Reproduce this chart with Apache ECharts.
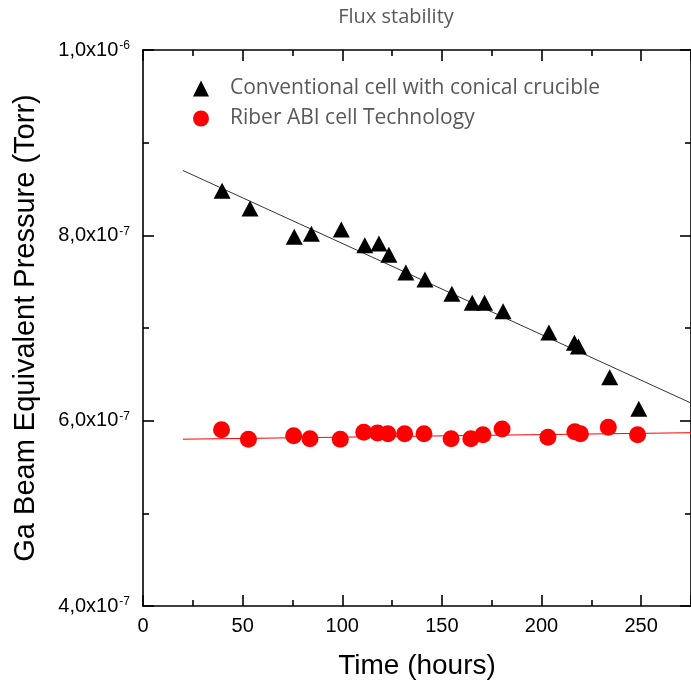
<!DOCTYPE html>
<html>
<head>
<meta charset="utf-8">
<script src="https://cdn.jsdelivr.net/npm/echarts@6/dist/echarts.min.js"></script>
<style>
html,body{margin:0;padding:0;background:#fff;overflow:hidden;}
#chart{width:691px;height:688px;}
</style>
</head>
<body>
<div id="chart"></div>
<script>
// Conventional cell (triangles)
const convHours = [39.7, 53.7, 75.9, 84.5, 99.5, 111.3, 118.4, 123.4, 131.9, 141.5, 155.0, 165.2, 171.4, 180.7, 203.7, 216.5, 218.5, 234.2, 248.8];
const convValues = [8.48e-7, 8.29e-7, 7.985e-7, 8.017e-7, 8.063e-7, 7.894e-7, 7.912e-7, 7.791e-7, 7.599e-7, 7.523e-7, 7.369e-7, 7.272e-7, 7.272e-7, 7.18e-7, 6.952e-7, 6.84e-7, 6.80e-7, 6.468e-7, 6.128e-7];
// Riber ABI cell (circles)
const abiHours = [39.4, 52.9, 75.6, 83.8, 99.0, 110.8, 117.7, 122.9, 131.3, 141.0, 154.6, 164.5, 170.6, 180.2, 203.2, 216.7, 219.5, 233.5, 248.2];
const abiValues = [5.903e-7, 5.799e-7, 5.838e-7, 5.806e-7, 5.799e-7, 5.875e-7, 5.867e-7, 5.86e-7, 5.86e-7, 5.86e-7, 5.806e-7, 5.806e-7, 5.849e-7, 5.91e-7, 5.821e-7, 5.88e-7, 5.86e-7, 5.93e-7, 5.849e-7];
// Linear fit lines (end points)
const convFitHours = [20, 275];
const convFitValues = [8.70e-7, 6.19e-7];
const abiFitHours = [20, 275];
const abiFitValues = [5.80e-7, 5.87e-7];

const titleText = 'Flux stability';
const seriesNames = ['Conventional cell with conical crucible', 'Riber ABI cell Technology'];
const xName = 'Time (hours)';
const yName = 'Ga Beam Equivalent Pressure (Torr)';

function pairs(xs, ys){ return xs.map((x,i)=>[x, ys[i]]); }

function sciLabel(v){
  const exp = Math.floor(Math.log10(v) + 1e-9);
  const m = v / Math.pow(10, exp);
  return '{a|' + m.toFixed(1).replace('.', ',') + 'x10}{s|' + exp + '}';
}

const chart = echarts.init(document.getElementById('chart'));
const axisLine = {show:true, onZero:false, lineStyle:{color:'#000', width:1.6}};
const tick = {show:true, inside:true, length:11, lineStyle:{color:'#000', width:1.6}};
const minor = {show:true, splitNumber:2, length:6, lineStyle:{color:'#000', width:1.6}};
const option = {
  backgroundColor:'#fff',
  animation:false,
  title:{text:titleText, left:391, top:2, textAlign:'center',
    textStyle:{fontFamily:'Open Sans', fontSize:20, fontWeight:'normal', color:'#595959'}},
  legend:{
    data:[{name:seriesNames[0], icon:'triangle'},{name:seriesNames[1], icon:'circle'}],
    orient:'vertical', left:188, top:73, itemWidth:16, itemHeight:16, itemGap:9,
    textStyle:{fontFamily:'Open Sans', fontSize:21, color:'#595959', padding:[0,0,0,16]}
  },
  grid:{left:143, top:50, bottom:82, right:-9, containLabel:false},
  xAxis:[{
    type:'value', min:0, max:275, interval:50, position:'bottom',
    name:xName, nameLocation:'middle', nameGap:46,
    nameTextStyle:{fontFamily:'Liberation Sans', fontSize:28, color:'#000'},
    axisLine:axisLine, axisTick:tick, minorTick:minor,
    splitLine:{show:false},
    axisLabel:{fontFamily:'Liberation Sans', fontSize:20, color:'#000', margin:10, showMaxLabel:false}
  },{
    type:'value', min:0, max:275, interval:50, position:'top',
    axisLine:axisLine, axisTick:tick, minorTick:minor,
    splitLine:{show:false}, axisLabel:{show:false}
  }],
  yAxis:[{
    type:'value', min:4e-7, max:1e-6, interval:2e-7, position:'left',
    name:yName, nameLocation:'middle', nameGap:103,
    nameTextStyle:{fontFamily:'Liberation Sans', fontSize:29, color:'#000'},
    axisLine:axisLine, axisTick:tick, minorTick:minor,
    splitLine:{show:false},
    axisLabel:{margin:13, formatter:sciLabel,
      rich:{a:{fontFamily:'Liberation Sans', fontSize:20, color:'#000'},
            s:{fontFamily:'Liberation Sans', fontSize:12, color:'#000', verticalAlign:'top', padding:[0,0,6,1]}}}
  },{
    type:'value', min:4e-7, max:1e-6, interval:2e-7, position:'right',
    axisLine:axisLine, axisTick:tick, minorTick:minor,
    splitLine:{show:false}, axisLabel:{show:false}
  }],
  series:[
    {type:'line', data:pairs(convFitHours, convFitValues), showSymbol:false, symbol:'none',
     lineStyle:{color:'#333', width:1}, silent:true, z:1},
    {type:'line', data:pairs(abiFitHours, abiFitValues), showSymbol:false, symbol:'none',
     lineStyle:{color:'#ff0000', width:1}, silent:true, z:1},
    {name:seriesNames[0], type:'scatter', data:pairs(convHours, convValues), symbol:'triangle',
     symbolSize:[17,16], itemStyle:{color:'#000', opacity:1}, z:3},
    {name:seriesNames[1], type:'scatter', data:pairs(abiHours, abiValues), symbol:'circle',
     symbolSize:17, itemStyle:{color:'#ff0000', opacity:1}, z:3}
  ]
};
chart.setOption(option);
</script>
</body>
</html>
